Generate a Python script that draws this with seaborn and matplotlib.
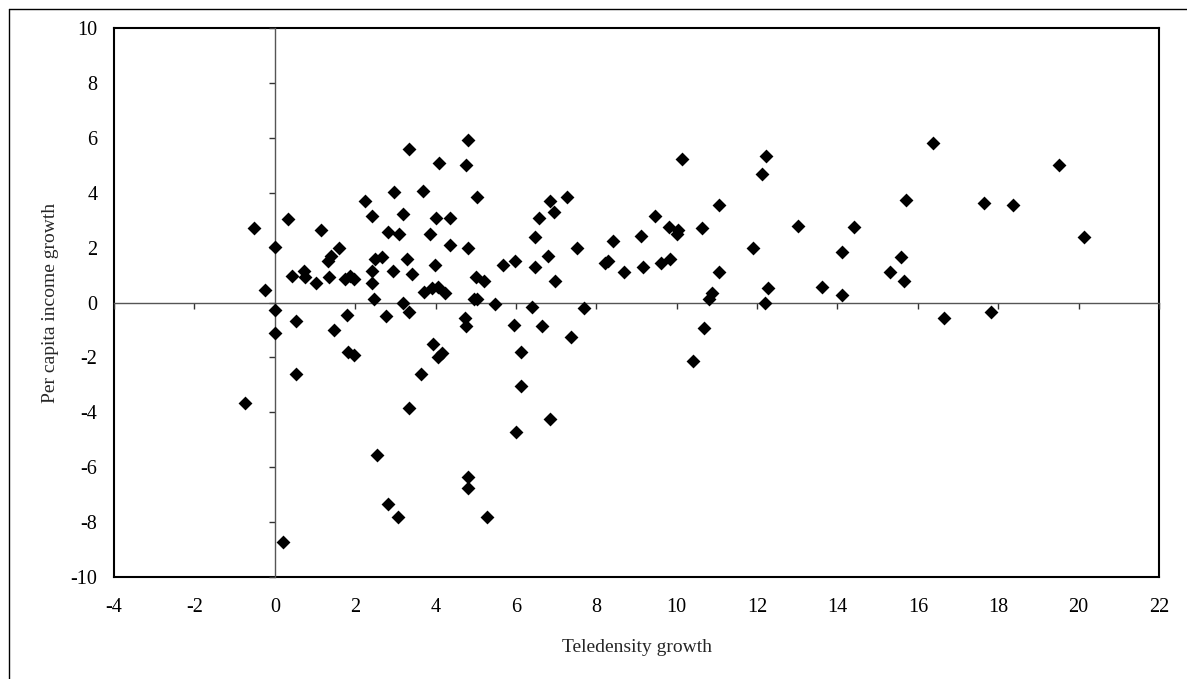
import matplotlib
matplotlib.use("Agg")
import matplotlib.pyplot as plt
import seaborn as sns
import pandas as pd
from matplotlib.lines import Line2D

# Scatter data
teledensity_growth = [
    -0.74, -0.52, -0.25, 0.00, 0.00, 0.00, 0.21, 0.34, 0.43, 0.52,
    0.52, 0.72, 0.75, 1.02, 1.14, 1.33, 1.35, 1.41, 1.47, 1.60,
    1.74, 1.80, 1.83, 1.87, 1.97, 1.98, 2.24, 2.41, 2.41, 2.43,
    2.47, 2.49, 2.55, 2.68, 2.76, 2.82, 2.82, 2.93, 2.96, 3.07,
    3.09, 3.18, 3.18, 3.28, 3.33, 3.33, 3.34, 3.41, 3.63, 3.68,
    3.72, 3.86, 3.90, 3.94, 3.98, 4.02, 4.05, 4.07, 4.08, 4.17,
    4.23, 4.36, 4.36, 4.73, 4.75, 4.75, 4.80, 4.81, 4.81, 4.81,
    4.95, 5.03, 5.00, 5.03, 5.21, 5.29, 5.48, 5.67, 5.94, 5.97,
    6.01, 6.12, 6.12, 6.40, 6.48, 6.48, 6.58, 6.66, 6.80, 6.84,
    6.84, 6.94, 6.98, 7.26, 7.38, 7.52, 7.70, 8.22, 8.30, 8.42,
    8.69, 9.11, 9.15, 9.46, 9.60, 9.81, 9.83, 10.01, 10.04, 10.13,
    10.41, 10.63, 10.68, 10.81, 10.87, 11.05, 11.05, 11.90, 12.13, 12.19,
    12.22, 12.27, 13.03, 13.62, 14.12, 14.12, 14.40, 15.30, 15.57, 15.66,
    15.70, 16.38, 16.65, 17.65, 17.83, 18.37, 19.50, 20.13,
]
income_growth = [
    -3.65, 2.70, 0.46, 2.04, -0.27, -1.12, -8.73, 3.05, 0.97, -0.66,
    -2.60, 1.13, 0.93, 0.71, 2.64, 1.52, 0.93, 1.70, -1.00, 1.98,
    0.85, -0.45, -1.79, 0.95, -1.91, 0.85, 3.68, 3.16, 1.13, 0.71,
    0.13, 1.58, -5.55, 1.65, -0.51, 2.57, -7.34, 1.13, 4.02, -7.80,
    2.49, 3.23, 0.00, 1.58, 5.60, -3.84, -0.35, 1.05, -2.60, 4.08,
    0.37, 2.49, 0.52, -1.52, 1.37, 3.08, 0.55, -1.99, 5.08, -1.85,
    0.33, 3.08, 2.10, -0.58, -0.87, 5.02, 5.93, 1.98, -6.34, -6.77,
    0.13, 0.13, 0.93, 3.83, 0.77, -7.80, -0.06, 1.37, -0.81, 1.52,
    -4.70, -1.81, -3.04, -0.15, 2.37, 1.31, 3.09, -0.87, 1.71, 3.70,
    -4.24, 3.30, 0.77, 3.83, -1.24, 1.98, -0.20, 1.45, 1.52, 2.25,
    1.12, 2.44, 1.31, 3.16, 1.44, 2.76, 1.58, 2.49, 2.65, 5.23,
    -2.13, 2.70, -0.93, 0.13, 0.34, 3.56, 1.12, 1.97, 4.68, -0.02,
    5.35, 0.52, 2.77, 0.58, 1.84, 0.26, 2.76, 1.12, 1.64, 0.77,
    3.74, 5.81, -0.55, 3.62, -0.35, 3.54, 5.02, 2.37,
]
x_ticks = list(range(-4, 23, 2))
y_ticks = list(range(-10, 11, 2))

sns.set_theme(style="white")
plt.rcParams['font.family'] = ['Liberation Serif', 'DejaVu Serif']
plt.rcParams['axes.unicode_minus'] = False

df = pd.DataFrame({"tele": teledensity_growth, "income": income_growth})

fig = plt.figure(figsize=(11.87, 6.79), dpi=100)
fig.patch.set_facecolor("white")
pos = [114 / 1187, 1 - 577 / 679, (1159 - 114) / 1187, (577 - 28) / 679]

# background axes: outer frame, tick labels and axis titles
bg = fig.add_axes(pos)
bg.set_xlim(-4, 22)
bg.set_ylim(-10, 10)
bg.set_xticks(x_ticks)
bg.set_yticks(y_ticks)
bg.tick_params(axis="both", length=0, labelsize=14.5, colors="black")
bg.tick_params(axis="x", pad=15)
bg.tick_params(axis="y", pad=12)
for s in bg.spines.values():
    s.set_color("black")
    s.set_linewidth(1.5)
bg.set_xlabel("Teledensity growth", fontsize=14, labelpad=16)
bg.set_ylabel("Per capita income growth", fontsize=14, labelpad=8)

# foreground axes: zero-crossing axis lines with ticks and the points
ax = fig.add_axes(pos, sharex=bg, sharey=bg)
ax.patch.set_alpha(0)
ax.spines["left"].set_position(("data", 0))
ax.spines["bottom"].set_position(("data", 0))
ax.spines["top"].set_visible(False)
ax.spines["right"].set_visible(False)
for side in ["left", "bottom"]:
    ax.spines[side].set_color("#555555")
    ax.spines[side].set_linewidth(1.0)
ax.tick_params(axis="both", direction="out", length=4, width=1.0, color="#333333",
               labelleft=False, labelbottom=False, left=True, bottom=True)

sns.scatterplot(data=df, x="tele", y="income", ax=ax, marker="D", color="black",
                s=50, edgecolor="black", linewidth=0, zorder=3, legend=False)
ax.set_xlabel("")
ax.set_ylabel("")

# chart area border (cut off at right and bottom edge of the image)
fig.add_artist(Line2D([8.5 / 1187, 8.5 / 1187], [0, 1 - 9 / 679], color="black", lw=1.0))
fig.add_artist(Line2D([8.5 / 1187, 1], [1 - 9 / 679, 1 - 9 / 679], color="black", lw=1.0))

fig.savefig("out.png", dpi=100)
